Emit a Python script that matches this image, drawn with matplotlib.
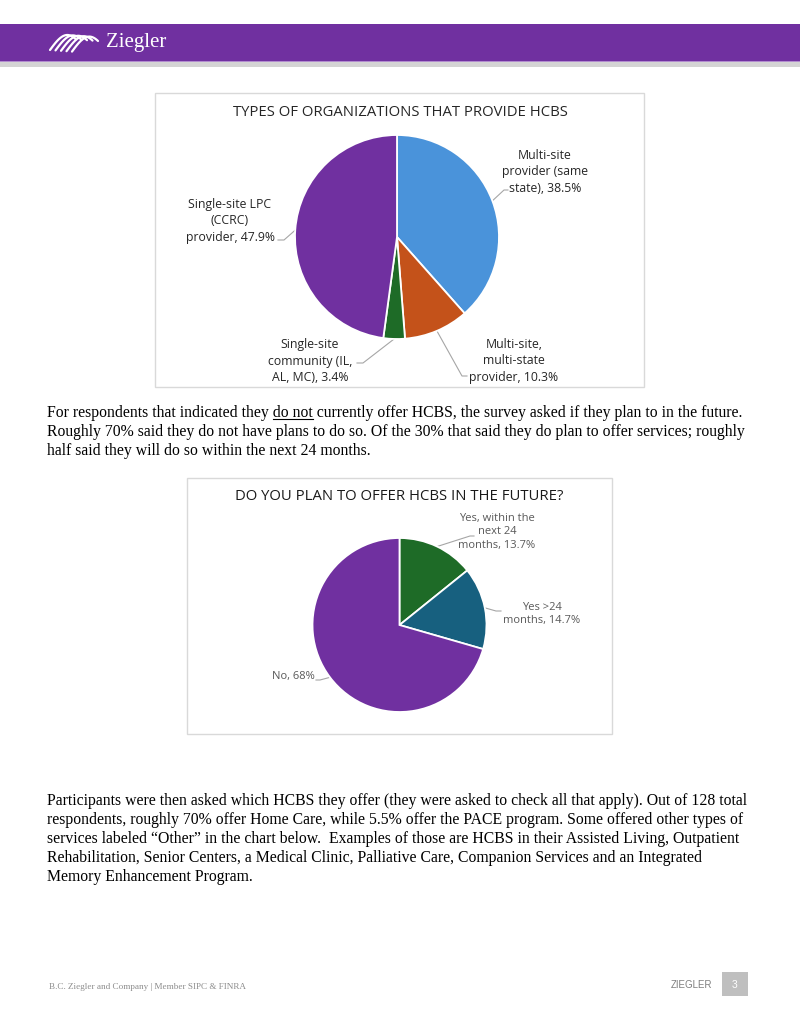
import matplotlib
matplotlib.use("Agg")
import matplotlib.pyplot as plt
from matplotlib.patches import Rectangle
import numpy as np

# ---------------- data ----------------
org_title = "TYPES OF ORGANIZATIONS THAT PROVIDE HCBS"
org_labels = ["Multi-site\nprovider (same\nstate)", "Multi-site,\nmulti-state\nprovider",
              "Single-site\ncommunity (IL,\nAL, MC)", "Single-site LPC\n(CCRC)\nprovider"]
org_values = [38.5, 10.3, 3.4, 47.9]
org_colors = ["#4A93DA", "#C4521A", "#1E6B27", "#7030A0"]

plan_title = "DO YOU PLAN TO OFFER HCBS IN THE FUTURE?"
plan_labels = ["Yes, within the\nnext 24\nmonths", "Yes >24\nmonths", "No"]
plan_values = [13.7, 14.7, 68]
plan_colors = ["#1E6B27", "#17607F", "#7030A0"]

para1_lines = [
    ("For respondents that indicated they ", "do not",
     " currently offer HCBS, the survey asked if they plan to in the future."),
    ("Roughly 70% said they do not have plans to do so. Of the 30% that said they do plan to offer services; roughly", "", ""),
    ("half said they will do so within the next 24 months.", "", ""),
]
para2_lines = [
    "Participants were then asked which HCBS they offer (they were asked to check all that apply). Out of 128 total",
    "respondents, roughly 70% offer Home Care, while 5.5% offer the PACE program. Some offered other types of",
    "services labeled \u201cOther\u201d in the chart below.  Examples of those are HCBS in their Assisted Living, Outpatient",
    "Rehabilitation, Senior Centers, a Medical Clinic, Palliative Care, Companion Services and an Integrated",
    "Memory Enhancement Program.",
]
footer_left = "B.C. Ziegler and Company | Member SIPC & FINRA"
footer_right = "ZIEGLER"
page_no = "3"

# ---------------- page ----------------
W, H = 800, 1035
fig = plt.figure(figsize=(W / 100, H / 100), dpi=100)
page = fig.add_axes([0, 0, 1, 1])
page.set_xlim(0, W)
page.set_ylim(H, 0)
page.axis("off")

SANS = ["Open Sans", "DejaVu Sans"]
SERIF = ["Liberation Serif", "DejaVu Serif"]
PURPLE = "#7030A0"

# header band
page.add_patch(Rectangle((0, 61), W, 6, color="#D4D4D4", lw=0))
page.add_patch(Rectangle((0, 24), W, 37, color=PURPLE, lw=0))
page.add_patch(Rectangle((0, 60.5), W, 1.2, color="#B28CCF", lw=0))
# logo swoosh (decorative twisted ribbon)
t = np.linspace(0, 1, 40)
for k in range(5):
    xs = 50 + 5.5 * k + 26 * t
    ys = 50 - 15 * np.sin(0.75 * np.pi * t) + 0.4 * k
    page.plot(xs, ys, color="white", lw=1.6, solid_capstyle="round")
page.text(106, 42, "Ziegler", color="white", fontsize=15, family=SERIF,
          ha="left", va="center")

# ---------------- helpers ----------------
def pie_axes(cx, cy, r):
    return fig.add_axes([(cx - r) / W, (H - cy - r) / H, 2 * r / W, 2 * r / H])


def draw_pie(cx, cy, r, values, colors, labels, label_pos, leaders, fsize, tcolor, lh):
    ax = pie_axes(cx, cy, r)
    wedges, _ = ax.pie(values, colors=colors, startangle=90, counterclock=False,
                       radius=1, wedgeprops=dict(edgecolor="white", linewidth=1.3))
    ax.set_xlim(-1, 1)
    ax.set_ylim(-1, 1)
    ax.set_aspect("equal")
    ax.axis("off")
    inv = page.transData.inverted()
    for w, lab, v, (tx, ty), pts in zip(wedges, labels, values, label_pos, leaders):
        mid = np.deg2rad((w.theta1 + w.theta2) / 2)
        ex, ey = inv.transform(ax.transData.transform((np.cos(mid), np.sin(mid))))
        xs = [ex] + [p[0] for p in pts]
        ys = [ey] + [p[1] for p in pts]
        page.plot(xs, ys, color="#A6A6A6", lw=0.8)
        page.text(tx, ty, f"{lab}, {v:g}%", ha="center", va="center", fontsize=fsize,
                  color=tcolor, family=SANS, linespacing=lh)


# ---------------- chart 1 ----------------
page.add_patch(Rectangle((155, 93), 489, 294, fill=False, ec="#D9D9D9", lw=1))
page.text(400, 113, org_title, ha="center", va="center", fontsize=10.7,
          color="#262626", family=SANS)
draw_pie(397, 237, 102, org_values, org_colors, org_labels,
         [(545, 172), (514, 361), (310, 361), (230, 221)],
         [[(504, 190), (508, 190)], [(462, 376), (467, 376)],
          [(363, 363), (357, 363)], [(284, 240), (278, 240)]],
         8.85, "#262626", 1.35)

# ---------------- chart 2 ----------------
page.add_patch(Rectangle((187, 478), 425, 256, fill=False, ec="#D9D9D9", lw=1))
page.text(399, 497, plan_title, ha="center", va="center", fontsize=10.7,
          color="#1A1A1A", family=SANS)
draw_pie(399.5, 625, 87, plan_values, plan_colors, plan_labels,
         [(497, 532), (542, 614), (293, 676)],
         [[(470, 536), (474, 536)], [(496, 611), (501, 611)],
          [(320, 680), (316, 680)]],
         8.0, "#595959", 1.3)

# ---------------- body text ----------------
BODY_FS = 11.32
fig.canvas.draw()
renderer = fig.canvas.get_renderer()
inv = page.transData.inverted()

def body_line(x, y, a, b="", c=""):
    page.text(x, y, a + b + c, ha="left", va="baseline", fontsize=BODY_FS,
              family=SERIF, color="black")
    if b:
        t1 = page.text(x, y, a, ha="left", va="baseline", fontsize=BODY_FS, family=SERIF)
        t2 = page.text(x, y, a + b, ha="left", va="baseline", fontsize=BODY_FS, family=SERIF)
        x1 = inv.transform((t1.get_window_extent(renderer).x1, 0))[0]
        x2 = inv.transform((t2.get_window_extent(renderer).x1, 0))[0]
        t1.remove()
        t2.remove()
        page.plot([x1, x2], [y + 2, y + 2], color="black", lw=0.8)

y0 = 417
for i, (a, b, c) in enumerate(para1_lines):
    body_line(47, y0 + 19 * i, a, b, c)
y0 = 805
for i, a in enumerate(para2_lines):
    body_line(47, y0 + 19 * i, a)

# ---------------- footer ----------------
page.text(49, 987, footer_left, ha="left", va="center", fontsize=6.6,
          family=SERIF, color="#8C8C8C")
page.text(712, 985, footer_right, ha="right", va="center", fontsize=7,
          family=["Liberation Sans", "DejaVu Sans"], color="#7F7F7F")
page.add_patch(Rectangle((722, 972), 26, 24, color="#BFBFBF", lw=0))
page.text(735, 985, page_no, ha="center", va="center", fontsize=7.5,
          family=["Liberation Sans", "DejaVu Sans"], color="white")

fig.savefig("out.png", dpi=100)
